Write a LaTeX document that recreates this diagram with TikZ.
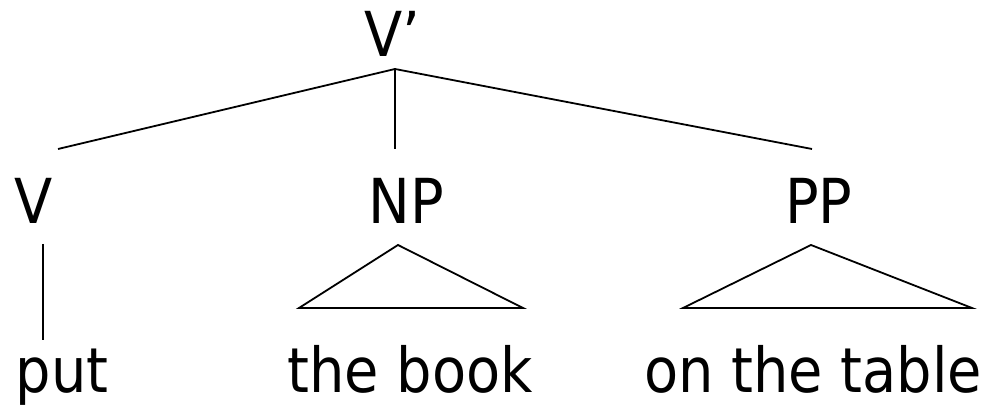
\documentclass[tikz,border=0pt]{standalone}
\usepackage{fontspec}
\setmainfont{DejaVu Sans Condensed}
\usetikzlibrary{positioning}

\begin{document}
\begin{tikzpicture}[
    x=1pt, y=1pt,
    cat/.style={inner sep=0pt, anchor=base, font=\fontsize{62}{62}\selectfont},
    branch/.style={line width=1.8pt},
    ]
\useasboundingbox (0,0) rectangle (994,406);

\node[cat] at (392,349) (vbar) {V’};

\node[cat] at (34,182) (v) {V};
\node[cat] at (406,182) (np) {NP};
\node[cat] at (819,182) (pp) {PP};

\node[cat] at (62,13) (put) {put};
\node[cat] at (410,13) (book) {the book};
\node[cat] at (813,13) (table) {on the table};

% branches from V'
\draw[branch] ([shift={(3,-12)}]vbar.base) -- ([shift={(24,75)}]v.base);
\draw[branch] ([shift={(3,-12)}]vbar.base) -- ([shift={(-11,75)}]np.base);
\draw[branch] ([shift={(3,-12)}]vbar.base) -- ([shift={(-7,75)}]pp.base);

% V to put
\draw[branch] ([shift={(9,-20)}]v.base) -- ([shift={(-19,53)}]put.base);

% triangles
\draw[branch] ([shift={(-8,-21)}]np.base) -- ([shift={(-111,85)}]book.base)
    -- ([shift={(113,85)}]book.base) -- cycle;
\draw[branch] ([shift={(-8,-21)}]pp.base) -- ([shift={(-130,85)}]table.base)
    -- ([shift={(159,85)}]table.base) -- cycle;

\end{tikzpicture}
\end{document}
